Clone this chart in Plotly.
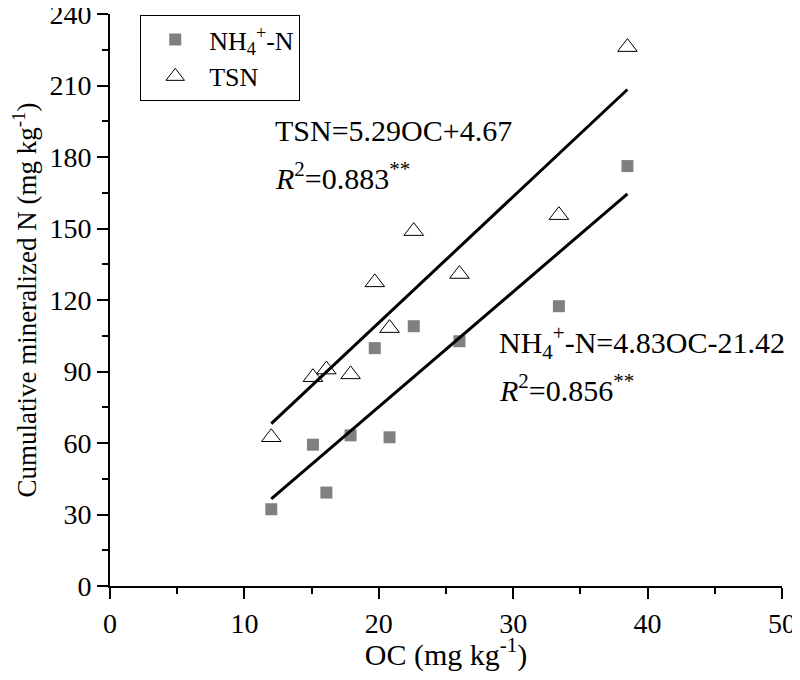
import plotly.graph_objects as go

oc = [12.0, 15.1, 16.1, 17.9, 19.7, 20.8, 22.6, 26.0, 33.4, 38.5]
nh4 = [32.2, 59.3, 39.2, 63.2, 99.8, 62.4, 109.0, 102.7, 117.4, 176.2]
tsn = [62.4, 87.6, 90.8, 88.8, 127.4, 108.2, 148.9, 130.9, 155.6, 226.1]

fit_x = [12.0, 38.5]
tsn_slope, tsn_int = 5.29, 4.67
nh4_slope, nh4_int = 4.83, -21.42

FONT = "Liberation Serif"

fig = go.Figure()
fig.add_trace(go.Scatter(
    x=oc, y=nh4, mode="markers", name="NH<sub>4</sub><sup>+</sup>-N",
    marker=dict(symbol="square", size=12, color="#808080"),
))
fig.add_trace(go.Scatter(
    x=oc, y=tsn, mode="markers", name="TSN",
    marker=dict(symbol="triangle-up-open", size=17, color="black", line=dict(width=1)),
))
fig.add_trace(go.Scatter(
    x=fit_x, y=[tsn_slope * v + tsn_int for v in fit_x], mode="lines",
    line=dict(color="black", width=3), showlegend=False, hoverinfo="skip",
))
fig.add_trace(go.Scatter(
    x=fit_x, y=[nh4_slope * v + nh4_int for v in fit_x], mode="lines",
    line=dict(color="black", width=3), showlegend=False, hoverinfo="skip",
))

ann_font = dict(family=FONT, size=30, color="black")
fig.add_annotation(x=12.1, y=191, xref="x", yref="y", text="TSN=5.29OC+4.67",
                   showarrow=False, xanchor="left", yanchor="middle", font=ann_font)
fig.add_annotation(x=12.1, y=172, xref="x", yref="y", text="<i>R</i><sup>2</sup>=0.883<sup>**</sup>",
                   showarrow=False, xanchor="left", yanchor="middle", font=ann_font)
fig.add_annotation(x=28.8, y=102, xref="x", yref="y",
                   text="NH<sub>4</sub><sup>+</sup>-N=4.83OC-21.42",
                   showarrow=False, xanchor="left", yanchor="middle", font=ann_font)
fig.add_annotation(x=28.8, y=83, xref="x", yref="y", text="<i>R</i><sup>2</sup>=0.856<sup>**</sup>",
                   showarrow=False, xanchor="left", yanchor="middle", font=ann_font)

axis_common = dict(
    showline=True, linecolor="black", linewidth=2, mirror=False,
    ticks="outside", ticklen=11, tickwidth=2, tickcolor="black",
    showgrid=False, zeroline=False, automargin=False,
    ticklabeloverflow="allow",
    tickfont=dict(family=FONT, size=28, color="black"),
)

fig.update_xaxes(
    range=[0, 50], tick0=0, dtick=10,
    title=dict(text="OC (mg kg<sup>-1</sup>)", font=dict(family=FONT, size=30, color="black")),
    minor=dict(dtick=5, ticklen=6, tickwidth=2, tickcolor="black", ticks="outside"),
    **axis_common,
)
fig.update_yaxes(
    range=[0, 240], tick0=0, dtick=30,
    title=dict(text="Cumulative mineralized N (mg kg<sup>-1</sup>)",
               font=dict(family=FONT, size=27, color="black")),
    minor=dict(dtick=15, ticklen=6, tickwidth=2, tickcolor="black", ticks="outside"),
    **axis_common,
)

fig.update_layout(
    width=792, height=664,
    margin=dict(l=102, r=18, t=6, b=86),
    paper_bgcolor="white", plot_bgcolor="white",
    font=dict(family=FONT, color="black"),
    legend=dict(
        x=0.045, y=0.998, xanchor="left", yanchor="top",
        bordercolor="black", borderwidth=1, bgcolor="white",
        font=dict(family=FONT, size=26, color="black"),
        itemwidth=58, tracegroupgap=0,
    ),
)

fig.write_html("out.html")
